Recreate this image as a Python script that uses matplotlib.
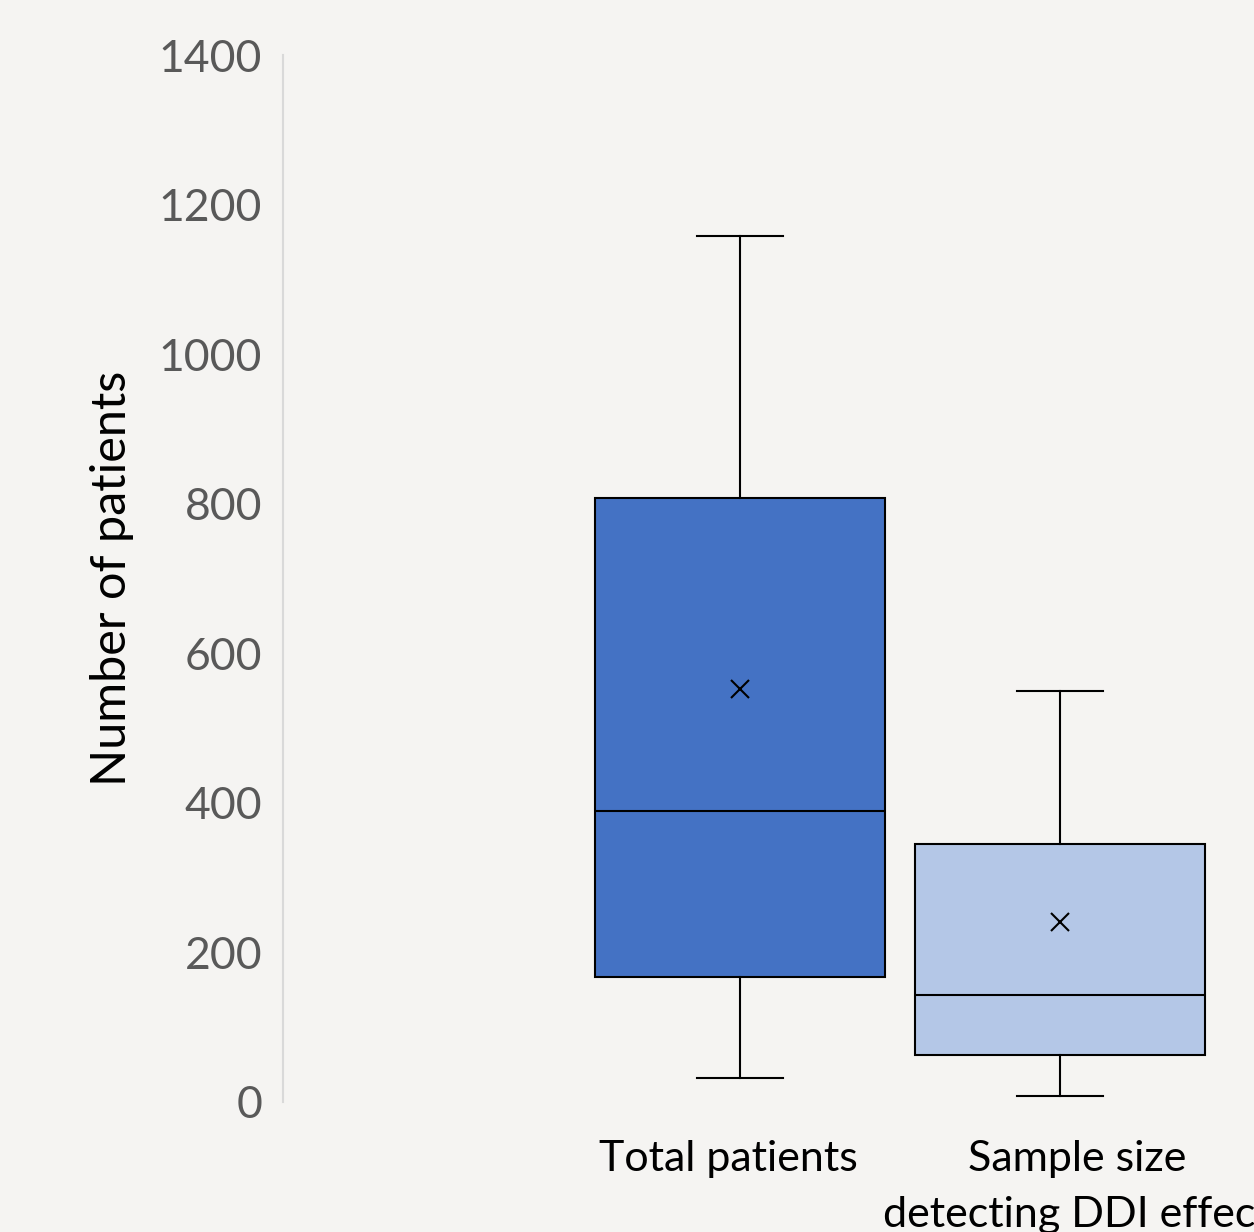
import matplotlib
matplotlib.use("Agg")
import matplotlib.pyplot as plt
import matplotlib.transforms as mtransforms

# ---- data ----
categories = ["Total patients", "Sample size\ndetecting DDI effect"]
whisker_low = [32, 8]
q1 = [167, 63]
median = [389, 143]
q3 = [807, 345]
whisker_high = [1158, 549]
mean = [552, 241]
box_colors = ["#4472C4", "#B4C7E7"]
yticks = [0, 200, 400, 600, 800, 1000, 1200, 1400]

bg = "#F5F4F2"
plt.rcParams["font.family"] = ["Lato", "DejaVu Sans"]

fig = plt.figure(figsize=(12.54, 12.32), dpi=100, facecolor=bg)
W, H = 1254, 1232
left_px, right_px = 283, 1380
top_px, bot_px = 55, 1102
ax = fig.add_axes([left_px / W, (H - bot_px) / H, (right_px - left_px) / W, (bot_px - top_px) / H])
ax.set_facecolor(bg)
ax.patch.set_alpha(0)

stats = []
for i in range(len(categories)):
    stats.append(dict(whislo=whisker_low[i], q1=q1[i], med=median[i], q3=q3[i],
                      whishi=whisker_high[i], mean=mean[i], fliers=[]))

positions = [1, 2]
bp = ax.bxp(stats, positions=positions, widths=0.906, patch_artist=True, showmeans=True,
            showfliers=False,
            boxprops=dict(edgecolor="black", linewidth=1.5),
            medianprops=dict(color="black", linewidth=1.5),
            whiskerprops=dict(color="black", linewidth=1.5),
            capprops=dict(color="black", linewidth=1.5),
            meanprops=dict(marker="x", markeredgecolor="black", markerfacecolor="black",
                           markersize=13, markeredgewidth=1.5),
            capwidths=0.266)
for patch, c in zip(bp["boxes"], box_colors):
    patch.set_facecolor(c)

ax.set_xlim(-0.428, 3.0)
ax.set_ylim(0, 1400)
ax.set_yticks(yticks)
ax.set_yticklabels([str(t) for t in yticks], fontsize=32, color="#595959")
ax.tick_params(axis="y", length=0, pad=15)
ax.tick_params(axis="x", length=0, pad=27)
ax.set_xticks(positions)
ax.set_xticklabels(categories, fontsize=31, color="black", linespacing=1.6)
offsets = [-12, 17]
for lbl, dx in zip(ax.get_xticklabels(), offsets):
    lbl.set_transform(lbl.get_transform() + mtransforms.ScaledTranslation(dx / 100, 0, fig.dpi_scale_trans))

for s in ["top", "right", "bottom"]:
    ax.spines[s].set_visible(False)
ax.spines["left"].set_color("#D9D9D9")
ax.spines["left"].set_linewidth(1.5)

ax.set_ylabel("Number of patients", fontsize=35, color="black", labelpad=18)

fig.savefig("out.png", dpi=100, facecolor=bg)
